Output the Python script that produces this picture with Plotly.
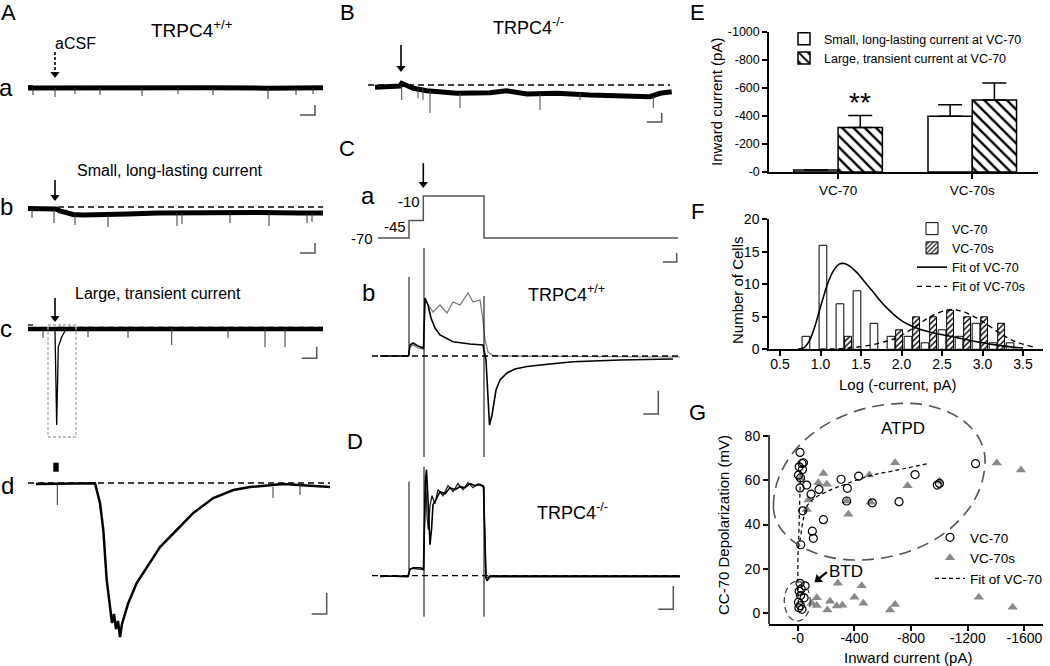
import plotly.graph_objects as go

W, H = 1050, 666
FONT = "Arial, 'Liberation Sans', sans-serif"

# ---------------- Panel A (TRPC4+/+) traces: time and current in trace units ----------------
aa_t = [0, 60, 120, 180, 240, 295]
aa_i = [0, 0.4, -0.3, 0.3, -0.2, 0.2]
aa_spike_t = [5, 27, 47, 72, 114, 150, 185, 240, 268, 285]
aa_spike_i = [-7, -9, -6, -7, -8, -6, -7, -11, -7, -6]

ab_t = [0, 25, 28, 32, 38, 45, 55, 75, 100, 130, 180, 230, 270, 295]
ab_i = [-1.5, -1.5, -2, -4, -6, -7.5, -8, -8, -7, -6, -5.5, -5.5, -6, -6]
ab_spike_t = [4, 26, 47, 80, 149, 154, 202, 241, 279, 284]
ab_spike_i = [-11, -16, -18, -20, -19, -17, -16, -19, -16, -15]

ac_t = [0, 26, 38, 295]
ac_i = [-1, -1, -1, -1]
ac_peak_t = [26, 27, 28.7, 30.3, 33.7, 38]
ac_peak_i = [-1, -3, -97, -19, -9, -1]
ac_spike_t = [15, 60, 100, 143.7, 200, 237, 257]
ac_spike_i = [-10, -9, -10, -17, -10, -19, -19]

ad_t = [8, 67, 72, 75.3, 78.7, 82, 84, 86, 88, 90, 92, 94, 95.3, 100.3, 108.7,
        122, 132, 148.7, 165.3, 185.3, 205.3, 222, 255.3, 302]
ad_i = [-1, -0.3, -20, -47, -97, -127, -140, -131, -146, -138, -154, -141, -137, -120, -100,
        -80, -64, -47, -30, -15, -7, -4, -1, -4]
ad_spike_t = [29.3, 245, 272]
ad_spike_i = [-22, -15, -12]

# ---------------- Panel B (TRPC4-/-) ----------------
b_t = [0, 25, 26.7, 30, 38.3, 51.7, 81.7, 115, 131.7, 151.7, 181.7, 215, 248.3, 275, 285, 296.7]
b_i = [-2.3, -1, 1.7, 0, -3.3, -5.7, -8.3, -7.7, -5.7, -9, -8.3, -10, -11, -11.7, -8.3, -6.7]
b_spike_t = [26.7, 43, 48, 55, 85, 165, 205, 278.3]
b_spike_i = [-15, -13, -15, -28, -23, -25, -15, -23]

# ---------------- Panel C ----------------
ca_t = [0, 31, 31, 45.3, 45.3, 106, 106, 300]
ca_v = [-70, -70, -45, -45, -10, -10, -70, -70]
ca_labels = ["-70", "-45", "-10"]

cb_black_t = [0, 28.5, 30, 33, 38, 43.5, 45, 48, 51, 55, 60, 73, 90, 103, 106, 108, 109.5,
              112, 116, 120, 127, 135, 147, 170, 193, 240, 293]
cb_black_i = [0, 0, 11, 13, 10, 8, 58, 51, 38, 28, 21, 14.3, 12, 11, -4, -44, -69,
              -59, -34, -24, -17, -13, -10.5, -8, -5.7, -4, -3]
cb_gray_t = [0, 28.5, 30, 33, 38, 43.5, 45, 53, 60, 67, 73, 80, 88, 93, 100, 103, 105, 108, 112, 120, 300]
cb_gray_i = [0, 0, 9, 11, 8, 7, 56, 44, 51, 43, 54, 51, 63, 54, 56, 36, 16, 4, 1, 0, -1]
cb_art_t = [29, 44, 104]
cb_art_top = [79, 108, 60]
cb_art_bot = [0, -101, -101]

# ---------------- Panel D ----------------
d1_t = [0, 28, 30, 33, 40, 43.5, 45.5, 46.5, 48, 50, 51.5, 53, 56, 60, 65, 70, 75, 80, 85,
        90, 95, 100, 103.5, 106, 107, 110, 300]
d1_i = [0, -1, 6, 8, 8, 7, 96, 106, 76, 31, 46, 71, 76, 84, 82, 88, 86, 89, 88,
        92, 90, 91, 89, -2, -5, -1, -1]
d2_t = [0, 28, 30, 35, 43.5, 45.5, 47, 48.3, 50, 52, 55, 58, 63, 68, 73, 78, 83, 88, 93, 98,
        103.5, 106, 110, 300]
d2_i = [-1, 0, 7, 7, 6, 100, 60, 46, 70, 80, 72, 86, 80, 90, 84, 92, 86, 93, 88, 92,
        90, -3, 0, 0]
d_art_t = [29, 44, 104]
d_art_top = [94, 109, 89]
d_art_bot = [0, -41, -41]

# ---------------- Panel E ----------------
e_categories = ["VC-70", "VC-70s"]
e_small_mean = [-15, -398]
e_small_sem = [0, 82]
e_large_mean = [-318, -514]
e_large_sem = [86, 121]

# ---------------- Panel F ----------------
f_bins = [0.82, 1.03, 1.24, 1.45, 1.66, 1.87, 2.08, 2.29, 2.50, 2.71, 2.92, 3.13, 3.34]
f_vc70 = [2, 16, 7, 9, 4, 2, 2, 1, 3, 2, 4, 1, 1]
f_vc70s = [None, None, 2, None, None, 3, 5, 5, 6, 5, 5, 4, None]
f_fit70_x = [0.72, 0.8, 0.87, 0.93, 0.97, 1.03, 1.1, 1.17, 1.23, 1.29, 1.36, 1.45, 1.55, 1.65,
             1.8, 2.0, 2.2, 2.4, 2.6, 2.8, 3.0, 3.2, 3.4, 3.5]
f_fit70_y = [0, 0.3, 1.5, 3.5, 5.2, 7.8, 10.5, 12.3, 13.1, 13.2, 12.8, 11.8, 10.3, 8.8,
             6.6, 4.4, 3.2, 2.5, 2.0, 1.5, 1.0, 0.6, 0.3, 0.2]
f_fit70s_x = [1.0, 1.3, 1.6, 1.8, 1.93, 2.1, 2.25, 2.4, 2.55, 2.65, 2.8, 3.0, 3.2, 3.4, 3.62]
f_fit70s_y = [0.0, 0.15, 0.6, 1.2, 1.7, 2.9, 4.2, 5.3, 6.0, 6.1, 5.6, 4.3, 2.6, 1.2, 0.4]

# ---------------- Panel G ----------------
g_vc70_x = [-16, -40, -30, -33, -10, -5, -20, -16, -63, -94, -150, -306, -430, -350, -345,
            -526, -715, -828, -985, -1000, -1255, -35, -181, -103, -110, -21,
            -16, -52, -10, -25, -20, -45, -5, -18, -30, -8]
g_vc70_y = [72.5, 67.8, 67.5, 64.8, 66, 62.3, 61, 56.5, 57.8, 53.7, 55.8, 60.4, 61.8, 56.3, 50.6,
            49.8, 50.3, 62.5, 57.8, 58.5, 67.4, 46.2, 42.2, 37, 33.8, 30.9,
            13.5, 12.4, 10, 11, 8, 7, 5, 3.5, 1.8, 2.5]
g_vc70s_x = [-181, -145, -205, -75, -63, -20, -505, -687, -775, -1000, -346, -357, -514, -1405, -1575,
             -283, -451, -400, -463, -134, -99, -134, -228, -275, -209, -315, -651, -687, -1278, -1517]
g_vc70s_y = [63, 58.8, 58.1, 51, 46.8, 61, 62.3, 67.8, 57.5, 59.5, 50.6, 44.6, 50, 67.7, 64.6,
             13.5, 12.4, 7.2, 4.5, 7, 4.5, 3.5, 5.5, 3.3, 1.5, 3.7, 1.5, 4, 7.3, 2.7]
g_fit_x = [-5, -5, -16, -30, -45, -63, -120, -228, -350, -510, -700, -922]
g_fit_y = [1, 30, 33, 39, 44, 48, 52, 55.5, 58.5, 62, 64.5, 67.5]
g_fit2_x = [-5, -10, -14, -18]
g_fit2_y = [30, 42, 52, 60]

# ===================================================================================
fig = go.Figure()
layout = {}
px_per_unit = {}


def hidden_axes(n, x0, x1, y0, y1, xr, yr):
    layout[f"xaxis{n}"] = dict(domain=[x0 / W, x1 / W], range=xr, visible=False, anchor=f"y{n}",
                               automargin=False)
    layout[f"yaxis{n}"] = dict(domain=[1 - y1 / H, 1 - y0 / H], range=yr, visible=False, anchor=f"x{n}",
                               automargin=False)
    px_per_unit[n] = (y1 - y0) / (yr[1] - yr[0])


# panel boxes (pixel layout) and trace-unit ranges
hidden_axes(4, 0, 340, 50, 125, [-28, 312], [-37, 38])        # A-a
hidden_axes(5, 0, 340, 180, 260, [-28, 312], [-53, 27])       # A-b
hidden_axes(6, 0, 340, 290, 445, [-28, 312], [-117, 38])      # A-c
hidden_axes(7, 0, 340, 455, 645, [-28, 312], [-162, 28])      # A-d
hidden_axes(8, 340, 690, 40, 130, [-35, 315], [-45, 45])      # B
hidden_axes(9, 340, 690, 150, 270, [-38, 312], [-115.71, 55.71])  # C-a (mV)
hidden_axes(10, 340, 690, 240, 465, [-40, 310], [-109, 116])  # C-b
hidden_axes(11, 340, 690, 455, 625, [-40, 310], [-49.3, 120.7])  # D


def spikes(ts, vals, base_t, base_i):
    xs, ys = [], []
    for t, v in zip(ts, vals):
        b = base_i[0]
        for bt, bi in zip(base_t, base_i):
            if bt <= t:
                b = bi
        xs += [t, t, None]
        ys += [b, v, None]
    return xs, ys


def add_line(x, y, n, color="black", width=1.5, dash=None):
    fig.add_trace(go.Scatter(x=x, y=y, mode="lines", xaxis=f"x{n}", yaxis=f"y{n}",
                             line=dict(color=color, width=width, dash=dash),
                             showlegend=False, hoverinfo="skip"))


shapes = []
annotations = []


def dashed_base(n, t0, t1, level=0, dash="6px,4px"):
    shapes.append(dict(type="line", xref=f"x{n}", yref=f"y{n}", x0=t0, x1=t1, y0=level, y1=level,
                       line=dict(color="black", width=1.3, dash=dash)))


def scale_bar(n, t0, t1, i_bottom, i_top):
    shapes.append(dict(type="path", xref=f"x{n}", yref=f"y{n}",
                       path=f"M{t0},{i_bottom} L{t1},{i_bottom} L{t1},{i_top}",
                       line=dict(color="#555", width=1.5)))


def arrow(n, t, tip, tail, dash=None):
    """Downward arrow drawn as a shaft plus a triangular head, in panel units."""
    ppu = px_per_unit[n]
    head_c = tip + 4 / ppu
    add_line([t, t], [tail, head_c + 1 / ppu], n, width=1.6, dash=dash)
    fig.add_trace(go.Scatter(x=[t], y=[head_c], mode="markers", xaxis=f"x{n}", yaxis=f"y{n}",
                             marker=dict(symbol="triangle-down", size=8, color="black"),
                             showlegend=False, hoverinfo="skip"))


# ---- A-a
add_line(aa_t, aa_i, 4, width=5)
sx, sy = spikes(aa_spike_t, aa_spike_i, aa_t, aa_i)
add_line(sx, sy, 4, color="#333", width=1)
scale_bar(4, 272, 287, -27, -17)
arrow(4, 27, 10, 36, dash="3px,2px")

# ---- A-b
dashed_base(5, 30, 295)
add_line(ab_t, ab_i, 5, width=5)
sx, sy = spikes(ab_spike_t, ab_spike_i, ab_t, ab_i)
add_line(sx, sy, 5, color="#333", width=1)
scale_bar(5, 272, 287, -46, -36)
arrow(5, 27, 6, 32)

# ---- A-c
add_line(ac_t, ac_i, 6, width=4.5)
add_line(ac_peak_t, ac_peak_i, 6, width=1.3)
sx, sy = spikes(ac_spike_t, ac_spike_i, ac_t, ac_i)
add_line(sx, sy, 6, color="#333", width=1)
dashed_base(6, 30, 295, level=0.5, dash="6px,4px")
shapes.append(dict(type="rect", xref="x6", yref="y6", x0=20, x1=48, y0=3, y1=-109,
                   line=dict(color="#aaa", width=1.3, dash="3px,2px")))
scale_bar(6, 273.7, 288.7, -30.3, -18.7)
arrow(6, 27, 6, 30)

# ---- A-d
dashed_base(7, 0, 302)
add_line(ad_t, ad_i, 7, width=2.5)
sx, sy = spikes(ad_spike_t, ad_spike_i, ad_t, ad_i)
add_line(sx, sy, 7, color="#333", width=1)
shapes.append(dict(type="rect", xref="x7", yref="y7", x0=25.3, x1=30.7, y0=11.3, y1=20.3,
                   fillcolor="black", line=dict(width=0)))
scale_bar(7, 283.7, 298.7, -131, -110)

# ---- B
dashed_base(8, -7, 295)
add_line(b_t, b_i, 8, width=5)
sx, sy = spikes(b_spike_t, b_spike_i, b_t, b_i)
add_line(sx, sy, 8, color="#444", width=1)
scale_bar(8, 271.7, 286.7, -37, -28)
arrow(8, 26, 13, 40)

# ---- C-a
add_line(ca_t, ca_v, 9, color="#555", width=1.5)
annotations.append(dict(xref="x9", yref="y9", x=-3, y=-70, text=ca_labels[0], showarrow=False,
                        xanchor="right", yanchor="middle", font=dict(size=15)))
annotations.append(dict(xref="x9", yref="y9", x=29.5, y=-45, text=ca_labels[1], showarrow=False,
                        xanchor="right", yanchor="middle", yshift=-6, font=dict(size=15)))
annotations.append(dict(xref="x9", yref="y9", x=44, y=-10, text=ca_labels[2], showarrow=False,
                        xanchor="right", yanchor="middle", yshift=-5, font=dict(size=15)))
scale_bar(9, 285, 298.7, -104.3, -91.4)
arrow(9, 45.3, 1.4, 37)

# ---- C-b
dashed_base(10, -8, 298)
add_line(cb_gray_t, cb_gray_i, 10, color="#777", width=1.2)
add_line(cb_black_t, cb_black_i, 10, color="black", width=1.6)
ax_, ay_ = [], []
for t, top, bot in zip(cb_art_t, cb_art_top, cb_art_bot):
    ax_ += [t, t, None]
    ay_ += [bot, top, None]
add_line(ax_, ay_, 10, color="black", width=1)
scale_bar(10, 263.3, 278.3, -58, -34.7)

# ---- D
dashed_base(11, -8, 300)
add_line(d2_t, d2_i, 11, color="#222", width=1.3)
add_line(d1_t, d1_i, 11, color="black", width=1.6)
ax_, ay_ = [], []
for t, top, bot in zip(d_art_t, d_art_top, d_art_bot):
    ax_ += [t, t, None]
    ay_ += [bot, top, None]
add_line(ax_, ay_, 11, color="black", width=1)
scale_bar(11, 278.3, 293.3, -33.6, -10.3)

# ---- E bars
bw = 0.33
fig.add_trace(go.Bar(x=[k - bw / 2 for k in range(len(e_categories))], y=e_small_mean, width=bw,
                     marker=dict(color="white", line=dict(color="black", width=1.5)),
                     error_y=dict(type="data", symmetric=False, array=[0, 0], arrayminus=e_small_sem,
                                  color="black", thickness=1.5, width=12),
                     name="Small, long-lasting current at VC-70", legend="legend", xaxis="x", yaxis="y"))
fig.add_trace(go.Bar(x=[k + bw / 2 for k in range(len(e_categories))], y=e_large_mean, width=bw,
                     marker=dict(color="white", line=dict(color="black", width=1.5),
                                 pattern=dict(shape="\\", fgcolor="black", bgcolor="white", size=8, solidity=0.3)),
                     error_y=dict(type="data", symmetric=False, array=[0, 0], arrayminus=e_large_sem,
                                  color="black", thickness=1.5, width=12),
                     name="Large, transient current at VC-70", legend="legend", xaxis="x", yaxis="y"))
annotations.append(dict(xref="x", yref="y", x=bw / 2, y=-493, text="**", showarrow=False,
                        font=dict(size=28), yanchor="middle"))

# ---- F histogram
fig.add_trace(go.Bar(x=f_bins, y=f_vc70, width=0.095, xaxis="x2", yaxis="y2",
                     marker=dict(color="white", line=dict(color="black", width=1)),
                     name="VC-70", legend="legend2"))
fig.add_trace(go.Bar(x=[b + 0.1 for b in f_bins], y=f_vc70s, width=0.085, xaxis="x2", yaxis="y2",
                     marker=dict(color="white", line=dict(color="black", width=1),
                                 pattern=dict(shape="/", fgcolor="black", bgcolor="white", size=4, solidity=0.35)),
                     name="VC-70s", legend="legend2"))
fig.add_trace(go.Scatter(x=f_fit70_x, y=f_fit70_y, mode="lines", xaxis="x2", yaxis="y2",
                         line=dict(color="black", width=1.6, shape="spline"), name="Fit of VC-70",
                         legend="legend2"))
fig.add_trace(go.Scatter(x=f_fit70s_x, y=f_fit70s_y, mode="lines", xaxis="x2", yaxis="y2",
                         line=dict(color="black", width=1.4, dash="5px,4px", shape="spline"),
                         name="Fit of VC-70s", legend="legend2"))

# ---- G scatter
fig.add_trace(go.Scatter(x=g_vc70s_x, y=g_vc70s_y, mode="markers", xaxis="x3", yaxis="y3",
                         marker=dict(symbol="triangle-up", size=9, color="#8a8a8a"),
                         name="VC-70s", legend="legend3", showlegend=False))
fig.add_trace(go.Scatter(x=g_vc70_x, y=g_vc70_y, mode="markers", xaxis="x3", yaxis="y3",
                         marker=dict(symbol="circle-open", size=8, color="black", line=dict(width=1.2)),
                         name="VC-70", legend="legend3"))
fig.add_trace(go.Scatter(x=[None], y=[None], mode="markers", xaxis="x3", yaxis="y3",
                         marker=dict(symbol="triangle-up", size=9, color="#8a8a8a"),
                         name="VC-70s", legend="legend3"))
fig.add_trace(go.Scatter(x=g_fit_x, y=g_fit_y, mode="lines", xaxis="x3", yaxis="y3",
                         line=dict(color="black", width=1.2, dash="4px,3px", shape="spline"),
                         name="Fit of VC-70", legend="legend3"))
fig.add_trace(go.Scatter(x=g_fit2_x, y=g_fit2_y, mode="lines", xaxis="x3", yaxis="y3",
                         line=dict(color="black", width=1.2, dash="4px,3px"), showlegend=False))

# BTD arrow: short diagonal shaft with rotated head
fig.add_trace(go.Scatter(x=[-205, -140], y=[18.6, 15.2], mode="lines", xaxis="x3", yaxis="y3",
                         line=dict(color="black", width=2.2), showlegend=False, hoverinfo="skip"))
fig.add_trace(go.Scatter(x=[-143], y=[15.3], mode="markers", xaxis="x3", yaxis="y3",
                         marker=dict(symbol="triangle-up", size=9, color="black", angle=232),
                         showlegend=False, hoverinfo="skip"))

# ellipses (ATPD, BTD) in data coords
xL, yL = 172, 48
xT, yT = -769, 94.6
xR, yR = -1322, 69
xB, yB = -416, 24
k = 0.5523
ell = (f"M{xL},{yL} C{xL},{yL + k * (yT - yL)} {xT - k * (xT - xL)},{yT} {xT},{yT} "
       f"C{xT + k * (xR - xT)},{yT} {xR},{yR + k * (yT - yR)} {xR},{yR} "
       f"C{xR},{yR - k * (yR - yB)} {xB + k * (xR - xB)},{yB} {xB},{yB} "
       f"C{xB - k * (xB - xL)},{yB} {xL},{yL - k * (yL - yB)} {xL},{yL} Z")
shapes.append(dict(type="path", xref="x3", yref="y3", path=ell,
                   line=dict(color="#555", width=1.6, dash="12px,7px")))
shapes.append(dict(type="circle", xref="x3", yref="y3", x0=95, x1=-88, y0=-3.5, y1=14.5,
                   line=dict(color="#444", width=1.3, dash="6px,4px")))
shapes.append(dict(type="line", xref="paper", yref="y3", x0=769 / W, x1=769 / W, y0=-4.8, y1=80.3,
                   line=dict(color="black", width=1.5)))
annotations.append(dict(xref="x3", yref="y3", x=-341, y=18.7, text="BTD", showarrow=False,
                        font=dict(size=17)))
annotations.append(dict(xref="x3", yref="y3", x=-745, y=83.3, text="ATPD", showarrow=False,
                        font=dict(size=17)))


def ann(text, x, y, size, **kw):
    d = dict(xref="paper", yref="paper", x=x / W, y=1 - y / H, text=text, showarrow=False,
             xanchor="center", yanchor="middle", font=dict(size=size))
    d.update(kw)
    annotations.append(d)


for L, x, y in [("A", 8, 12), ("B", 347, 12), ("C", 347, 148), ("D", 355, 441),
                ("E", 697, 13), ("F", 697, 212), ("G", 697, 412)]:
    ann(L, x, y, 22)
ann("TRPC4<sup>+/+</sup>", 192, 29, 19)
ann("aCSF", 75, 43, 16)
ann("a", 6, 87, 24)
ann("b", 6, 207, 24)
ann("c", 6, 328, 24)
ann("d", 7, 485, 24)
for yy in (86, 207, 325):
    shapes.append(dict(type="line", xref="paper", yref="paper", x0=28 / W, x1=33 / W,
                       y0=1 - yy / H, y1=1 - yy / H, line=dict(color="black", width=1.3)))
ann("Small, long-lasting current", 170, 170, 16)
ann("Large, transient current", 158, 294, 16)
ann("TRPC4<sup>-/-</sup>", 528, 26, 18)
ann("a", 368, 195, 24)
ann("b", 368, 292, 24)
ann("TRPC4<sup>+/+</sup>", 566, 294, 18)
ann("TRPC4<sup>-/-</sup>", 572, 511, 18)
ann("Inward current (pA)", 716, 102, 15, textangle=-90)
ann("Number of Cells", 737, 290, 15, textangle=-90)
ann("Log (-current, pA)", 898, 384, 15)
ann("CC-70 Depolarization (mV)", 723, 525, 15, textangle=-90)
ann("Inward current (pA)", 908, 657, 15)

axis_common = dict(showgrid=False, zeroline=False, showline=True, linecolor="black", linewidth=1.5,
                   ticks="outside", ticklen=5, tickwidth=1.5, tickcolor="black", automargin=False)

layout["xaxis"] = dict(domain=[769 / W, 1038 / W], range=[-0.515, 1.49], tickvals=[0, 1],
                       ticktext=e_categories, tickfont=dict(size=13.5), anchor="y", **axis_common)
layout["yaxis"] = dict(domain=[1 - 172 / H, 1 - 32 / H], range=[0, -1000],
                       tickvals=[0, -200, -400, -600, -800, -1000],
                       ticktext=["-0", "-200", "-400", "-600", "-800", "-1000"],
                       tickfont=dict(size=12.5), anchor="x", **axis_common)
layout["xaxis2"] = dict(domain=[769 / W, 1043 / W], range=[0.364, 3.747],
                        tickvals=[0.5, 1.0, 1.5, 2.0, 2.5, 3.0, 3.5],
                        ticktext=["0.5", "1.0", "1.5", "2.0", "2.5", "3.0", "3.5"],
                        tickfont=dict(size=14), anchor="y2", ticklabelstandoff=-4, **axis_common)
layout["yaxis2"] = dict(domain=[1 - 349.3 / H, 1 - 219.3 / H], range=[0, 20],
                        tickvals=[0, 5, 10, 15, 20], tickfont=dict(size=14), anchor="x2", **axis_common)
layout["xaxis3"] = dict(domain=[769 / W, 1043 / W], range=[203, -1731],
                        tickvals=[0, -400, -800, -1200, -1600],
                        ticktext=["-0", "-400", "-800", "-1200", "-1600"],
                        tickfont=dict(size=14), anchor="y3", ticklabelstandoff=-5, **axis_common)
ya3 = dict(axis_common)
ya3["showline"] = False
layout["yaxis3"] = dict(domain=[1 - 624 / H, 1 - 398 / H], range=[-4.8, 97],
                        tickvals=[0, 20, 40, 60, 80], tickfont=dict(size=14), anchor="x3", **ya3)

leg_common = dict(bgcolor="rgba(0,0,0,0)", borderwidth=0, xanchor="left", yanchor="top",
                  itemwidth=30, tracegroupgap=0, itemclick=False, itemdoubleclick=False)
layout["legend"] = dict(x=784 / W, y=1 - 24 / H, font=dict(size=12.5, family=FONT), **leg_common)
layout["legend2"] = dict(x=912 / W, y=1 - 214 / H, font=dict(size=12.5, family=FONT), **leg_common)
layout["legend3"] = dict(x=930 / W, y=1 - 522 / H, font=dict(size=13.5, family=FONT), **leg_common)

fig.update_layout(
    template="none",
    width=W, height=H, margin=dict(l=0, r=0, t=0, b=0, pad=0, autoexpand=False),
    paper_bgcolor="white", plot_bgcolor="white",
    font=dict(family=FONT, color="black"),
    barmode="overlay", showlegend=True,
    shapes=shapes, annotations=annotations, **layout)

fig.write_html("out.html", post_script="document.body.style.margin='0px';",
               config={"displayModeBar": False})
